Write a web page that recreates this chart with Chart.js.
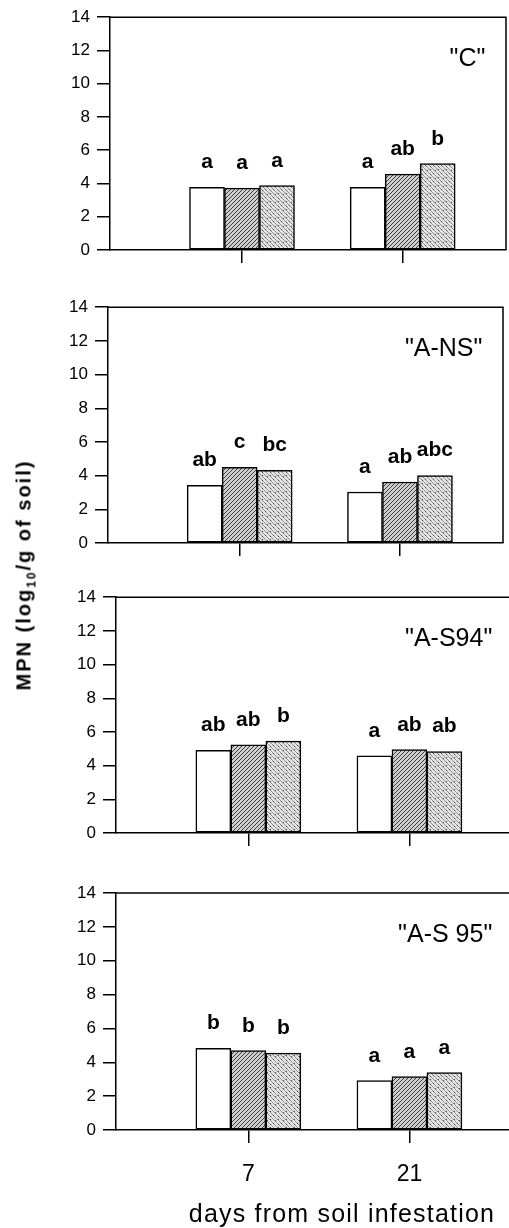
<!DOCTYPE html>
<html>
<head>
<meta charset="utf-8">
<script src="https://cdn.jsdelivr.net/npm/chart.js@4.4.1/dist/chart.umd.min.js"></script>
<style>
    html, body { margin: 0; padding: 0; background: #fff; overflow: hidden; width: 509px; height: 1228px; }
    body { position: relative; font-family: "Liberation Sans", Arial, sans-serif; color: #000; }
    canvas { position: absolute; left: 0; }
    #yTitle {
        position: absolute; left: 24px; top: 575px; white-space: nowrap;
        font-weight: bold; font-size: 20px; letter-spacing: 2px;
        transform: translate(-50%, -50%) rotate(-90deg);
    }
    #yTitle sub { font-size: 12px; line-height: 0; }
    #xTitle {
        position: absolute; left: 342px; top: 1213px; white-space: nowrap;
        font-size: 25px; letter-spacing: 1.2px;
        transform: translate(-50%, -50%);
    }
</style>
</head>
<body>
<canvas id="p1" width="509" height="290" style="top:0px"></canvas>
<canvas id="p2" width="509" height="290" style="top:290px"></canvas>
<canvas id="p3" width="514" height="290" style="top:580px"></canvas>
<canvas id="p4" width="514" height="358" style="top:870px"></canvas>
<div id="yTitle">MPN (log<sub>10</sub>/g of soil)</div>
<div id="xTitle">days from soil infestation</div>

<script>
// Datos
const days = [7, 21];
const yTicks = [0, 2, 4, 6, 8, 10, 12, 14];
const panelNames = ['"C"', '"A-NS"', '"A-S94"', '"A-S 95"'];

const C_open = [3.77, 3.77];
const C_hatched = [3.72, 4.56];
const C_dotted = [3.87, 5.20];
const C_letters = [['a', 'a'], ['a', 'ab'], ['a', 'b']];

const ANS_open = [3.43, 3.03];
const ANS_hatched = [4.50, 3.62];
const ANS_dotted = [4.31, 4.01];
const ANS_letters = [['ab', 'a'], ['c', 'ab'], ['bc', 'abc']];

const AS94_open = [4.91, 4.58];
const AS94_hatched = [5.23, 4.95];
const AS94_dotted = [5.46, 4.84];
const AS94_letters = [['ab', 'a'], ['ab', 'ab'], ['b', 'ab']];

const AS95_open = [4.83, 2.92];
const AS95_hatched = [4.69, 3.16];
const AS95_dotted = [4.54, 3.39];
const AS95_letters = [['b', 'a'], ['b', 'a'], ['b', 'a']];

const FONT = '"Liberation Sans", Arial, sans-serif';

// Texturas de las barras (rayado y punteado)
function makeHatch() {
    const c = document.createElement('canvas');
    c.width = 4; c.height = 4;
    const ctx = c.getContext('2d');
    ctx.fillStyle = '#cfcfcf';
    ctx.fillRect(0, 0, 4, 4);
    ctx.strokeStyle = '#3c3c3c';
    ctx.lineWidth = 1;
    ctx.beginPath();
    ctx.moveTo(0, 4); ctx.lineTo(4, 0);
    ctx.moveTo(-1, 1); ctx.lineTo(1, -1);
    ctx.moveTo(3, 5); ctx.lineTo(5, 3);
    ctx.stroke();
    return ctx.createPattern(c, 'repeat');
}

function makeDots() {
    const c = document.createElement('canvas');
    c.width = 8; c.height = 8;
    const ctx = c.getContext('2d');
    ctx.fillStyle = '#e4e4e4';
    ctx.fillRect(0, 0, 8, 8);
    ctx.strokeStyle = '#7a7a7a';
    ctx.lineWidth = 0.8;
    ctx.beginPath();
    ctx.moveTo(0, 0); ctx.lineTo(8, 8);
    ctx.moveTo(4, 0); ctx.lineTo(8, 4);
    ctx.moveTo(0, 4); ctx.lineTo(4, 8);
    ctx.stroke();
    ctx.fillStyle = '#444';
    [[1, 5], [6, 1], [3, 2], [6, 6]].forEach(p => ctx.fillRect(p[0], p[1], 1, 1));
    return ctx.createPattern(c, 'repeat');
}

const hatchFill = makeHatch();
const dotFill = makeDots();

// Marco superior y derecho del area del grafico
const framePlugin = {
    id: 'frame',
    afterDraw(chart) {
        const a = chart.chartArea;
        const ctx = chart.ctx;
        ctx.save();
        ctx.strokeStyle = '#000';
        ctx.lineWidth = 1.5;
        ctx.beginPath();
        ctx.moveTo(a.left, a.top);
        ctx.lineTo(a.right, a.top);
        ctx.lineTo(a.right, a.bottom);
        ctx.stroke();
        ctx.restore();
    }
};

// Letras sobre las barras y nombre del panel
const lettersPlugin = {
    id: 'letters',
    afterDatasetsDraw(chart, args, opts) {
        const ctx = chart.ctx;
        ctx.save();
        ctx.fillStyle = '#000';
        ctx.textAlign = 'center';
        ctx.textBaseline = 'alphabetic';
        ctx.font = 'bold 21px ' + FONT;
        opts.letters.forEach((row, i) => {
            chart.getDatasetMeta(i).data.forEach((bar, j) => {
                ctx.fillText(row[j], bar.x, bar.y - 19);
            });
        });
        ctx.font = '25px ' + FONT;
        ctx.textAlign = 'right';
        ctx.textBaseline = 'middle';
        ctx.fillText(opts.name, chart.scales.x.getPixelForValue(28.2), chart.scales.y.getPixelForValue(11.5));
        ctx.restore();
    }
};

function crearPanel(id, name, open, hatched, dotted, letters, layout) {
    const canvas = document.getElementById(id);
    const toPoints = vals => vals.map((v, i) => ({ x: days[i], y: v }));
    const barStyle = { borderColor: '#000', borderWidth: 1.5, borderSkipped: false, barThickness: 35 };

    new Chart(canvas, {
        type: 'bar',
        data: {
            datasets: [
                Object.assign({ label: 'open', data: toPoints(open), backgroundColor: '#fff' }, barStyle),
                Object.assign({ label: 'hatched', data: toPoints(hatched), backgroundColor: hatchFill }, barStyle),
                Object.assign({ label: 'dotted', data: toPoints(dotted), backgroundColor: dotFill }, barStyle)
            ]
        },
        options: {
            responsive: false,
            animation: false,
            devicePixelRatio: 1,
            layout: { padding: { top: layout.top, right: layout.right, left: 0, bottom: 0 } },
            scales: {
                x: {
                    type: 'linear',
                    offset: false,
                    min: -4.5,
                    max: 30,
                    afterBuildTicks: s => { s.ticks = days.map(v => ({ value: v })); },
                    afterFit: s => { s.height = layout.xH; },
                    grid: { offset: false, drawOnChartArea: false, drawTicks: true, tickLength: 13, color: '#000', lineWidth: 1.5 },
                    border: { color: '#000', width: 1.5 },
                    ticks: {
                        display: layout.showX,
                        color: '#000',
                        padding: 18,
                        maxRotation: 0,
                        font: { family: FONT, size: 23 }
                    }
                },
                y: {
                    min: 0,
                    max: 14,
                    afterBuildTicks: s => { s.ticks = yTicks.map(v => ({ value: v })); },
                    afterFit: s => { s.width = layout.yW; },
                    grid: { drawOnChartArea: false, drawTicks: true, tickLength: 13, color: '#000', lineWidth: 1.5 },
                    border: { color: '#000', width: 1.5 },
                    ticks: {
                        color: '#000',
                        padding: 7,
                        font: { family: FONT, size: 17 }
                    }
                }
            },
            plugins: {
                legend: { display: false },
                tooltip: { enabled: false },
                letters: { letters: letters, name: name }
            }
        },
        plugins: [framePlugin, lettersPlugin]
    });
}

crearPanel('p1', panelNames[0], C_open, C_hatched, C_dotted, C_letters,
    { top: 15, right: 3, xH: 40, yW: 110, showX: false });
crearPanel('p2', panelNames[1], ANS_open, ANS_hatched, ANS_dotted, ANS_letters,
    { top: 15, right: 6, xH: 37, yW: 108, showX: false });
crearPanel('p3', panelNames[2], AS94_open, AS94_hatched, AS94_dotted, AS94_letters,
    { top: 14, right: 1, xH: 37, yW: 116, showX: false });
crearPanel('p4', panelNames[3], AS95_open, AS95_hatched, AS95_dotted, AS95_letters,
    { top: 23, right: 1, xH: 98, yW: 116, showX: true });
</script>
</body>
</html>
